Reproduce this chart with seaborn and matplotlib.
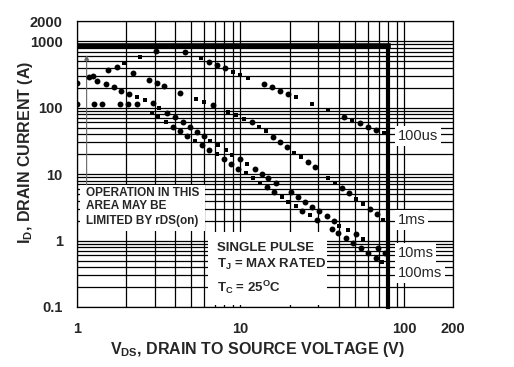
import numpy as np
import pandas as pd
import matplotlib
matplotlib.use('Agg')
import matplotlib.pyplot as plt
from matplotlib.patches import Rectangle
from matplotlib.ticker import FixedLocator, FixedFormatter, LogLocator, NullFormatter
import seaborn as sns

# dots (V, A); marks: 'o' round dot, 's' small square, 'S' big square
rds_v = [1.00, 1.19, 1.26, 1.56, 1.76, 1.95, 2.45, 3.05]
rds_i = [233, 287, 300, 370, 414, 466, 574, 722]
rds_m = ['o', 'o', 'o', 'o', 'o', 'S', 'S', 'o']

us100_v = [4.59, 5.74, 6.43, 7.20, 8.05, 8.97, 10.0, 11.2, 14.0, 15.7, 17.5, 19.6, 22.0,
           27.5, 34.4, 43.1, 48.3, 54.0, 60.4, 67.3, 75.7]
us100_i = [683, 554, 493, 439, 392, 348, 314, 280, 227, 203, 180, 161, 143,
           115, 91.4, 73.2, 64.6, 58.3, 51.8, 46.2, 41.2]
us100_m = ['o', 's', 'o', 'o', 'o', 's', 's', 's', 'o', 'o', 'o', 'o', 'S',
           's', 'S', 'o', 's', 'o', 'o', 'o', 's']

ms1_v = [2.20, 2.75, 3.08, 3.43, 4.30, 5.38, 6.02, 6.77, 8.44, 9.40, 10.6, 11.8, 13.0, 14.4, 15.9,
         17.5, 19.3, 21.2, 23.5, 25.8, 28.6, 34.4, 37.8, 41.9, 46.3, 51.1, 56.3, 61.9, 68.3, 74.6]
ms1_i = [330, 261, 233, 212, 168, 135, 122, 109, 87.1, 76.9, 68.3, 61.6, 51.8, 44.2, 36.6,
         30.8, 25.4, 21.0, 17.9, 15.1, 12.7, 8.66, 7.28, 6.12, 5.15, 4.23, 3.55, 2.99, 2.49, 2.04]
ms1_m = ['o', 'o', 'o', 'o', 'o', 'S', 'S', 'o', 's', 's', 's', 'o', 's', 's', 'o',
         'o', 'o', 's', 's', 'o', 'o', 's', 's', 'o', 'o', 's', 's', 'o', 'o', 's']

ms10_v = [1.34, 1.50, 1.68, 1.87, 2.09, 2.34, 2.61, 2.92, 3.20, 3.58, 3.99, 4.44, 4.92, 5.41, 5.99,
          6.52, 7.33, 8.17, 8.92, 9.95, 11.0, 12.3, 13.5, 14.8, 16.4, 20.4, 22.4, 24.8, 27.5, 30.3,
          33.7, 37.3, 40.2, 45.3, 50.6, 56.3, 69.0, 76.4]
ms10_i = [252, 227, 203, 180, 161, 143, 131, 117, 98.0, 82.4, 71.7, 60.9, 51.8, 43.5, 37.5,
          31.9, 27.2, 23.1, 19.4, 16.7, 14.1, 11.8, 10.2, 8.66, 7.43, 5.33, 4.48, 3.85, 3.24, 2.79,
          2.34, 1.99, 1.67, 1.44, 1.24, 1.06, 0.765, 0.657]
ms10_m = ['o', 'o', 'o', 'o', 'o', 's', 'S', 'o', 's', 'o', 'o', 'o', 'o', 'o', 'o',
          's', 's', 's', 's', 'o', 'S', 'o', 'o', 'o', 'o', 'o', 'o', 'o', 'o', 'o',
          'o', 'o', 's', 's', 'o', 's', 'o', 'o']

ms100_v = [1.00, 1.28, 1.43, 1.83, 2.06, 2.34, 2.87, 3.15, 3.50, 3.86, 4.30, 4.74, 5.28, 5.80, 6.46,
           7.20, 7.94, 8.73, 9.67, 10.8, 11.9, 13.2, 14.5, 16.0, 17.9, 19.6, 21.8, 23.9, 26.6, 29.5,
           36.1, 39.6, 44.2, 48.9, 54.5, 60.4, 67.1, 73.6]
ms100_i = [112, 112, 112, 112, 112, 112, 84.1, 71.7, 60.9, 51.8, 44.6, 37.5, 31.9, 27.2, 23.1,
           19.9, 16.7, 14.2, 12.1, 10.3, 8.66, 7.43, 6.34, 5.38, 4.58, 3.85, 3.28, 2.82, 2.40, 2.04,
           1.49, 1.29, 1.08, 0.91, 0.78, 0.657, 0.552, 0.471]
ms100_m = ['o', 'o', 'o', 'o', 'o', 'o', 's', 's', 's', 'o', 'o', 'o', 's', 'o', 'o',
           's', 'o', 'o', 'o', 's', 's', 's', 'o', 'o', 's', 's', 's', 'o', 's', 'o',
           'o', 'o', 'o', 'o', 'o', 'o', 'o', 's']

I_LIMIT = 850      # thick horizontal boundary (A)
V_LIMIT = 80       # thick vertical boundary (V)
rds_note_v = 1.15  # thin arrow from the note box
rds_note_i = [6.9, 620]

x_ticks = [1, 10, 100, 200]
x_labels = ['1', '10', '100', '200']
y_ticks = [0.1, 1, 10, 100, 1000, 2000]
y_labels = ['0.1', '1', '10', '100', '1000', '2000']

frames = []
for name, v, i, m in [('rds', rds_v, rds_i, rds_m), ('100us', us100_v, us100_i, us100_m),
                      ('1ms', ms1_v, ms1_i, ms1_m), ('10ms', ms10_v, ms10_i, ms10_m),
                      ('100ms', ms100_v, ms100_i, ms100_m)]:
    frames.append(pd.DataFrame({'V': v, 'I': i, 'mark': m, 'curve': name}))
df = pd.concat(frames, ignore_index=True)

sns.set_style('white')
plt.rcParams['font.family'] = ['Liberation Sans', 'DejaVu Sans']
plt.rcParams['mathtext.fontset'] = 'custom'
plt.rcParams['mathtext.rm'] = 'Liberation Sans:bold'
plt.rcParams['mathtext.it'] = 'Liberation Sans:bold'
plt.rcParams['mathtext.bf'] = 'Liberation Sans:bold'

fig = plt.figure(figsize=(5.14, 3.67), dpi=100)
ax = fig.add_axes([0.1492, 0.1635, 0.7327, 0.7785])

marks = {'o': ('o', 18), 's': ('s', 5), 'S': ('s', 11)}
for key, (mk, size) in marks.items():
    sns.scatterplot(data=df[df['mark'] == key], x='V', y='I', marker=mk, s=size,
                    color='black', linewidth=0, ax=ax, zorder=3, legend=False)

ax.set_xscale('log')
ax.set_yscale('log')
ax.set_xlim(1, 200)
ax.set_ylim(0.1, 2000)

ax.plot([1, V_LIMIT], [I_LIMIT, I_LIMIT], color='black', lw=4.0, solid_capstyle='projecting', zorder=2.6)
ax.plot([V_LIMIT, V_LIMIT], [0.1, I_LIMIT], color='black', lw=3.0, solid_capstyle='projecting',
        zorder=2.6, clip_on=False)

ax.xaxis.set_major_locator(FixedLocator(x_ticks))
ax.xaxis.set_major_formatter(FixedFormatter(x_labels))
ax.yaxis.set_major_locator(FixedLocator(y_ticks))
ax.yaxis.set_major_formatter(FixedFormatter(y_labels))
ax.xaxis.set_minor_locator(LogLocator(base=10, subs=np.arange(2, 10)))
ax.yaxis.set_minor_locator(LogLocator(base=10, subs=np.arange(2, 10)))
ax.xaxis.set_minor_formatter(NullFormatter())
ax.yaxis.set_minor_formatter(NullFormatter())
ax.grid(True, which='both', color='black', linewidth=0.9)
ax.tick_params(which='both', length=0)
ax.tick_params(axis='x', pad=11, labelsize=10.5)
ax.tick_params(axis='y', pad=10, labelsize=10.5)
for lab in ax.get_xticklabels() + ax.get_yticklabels():
    lab.set_fontweight('bold')
for sp in ax.spines.values():
    sp.set_color('black')
    sp.set_linewidth(0.9)
    sp.set_zorder(2.5)

ax.set_xlabel(r'V$_\mathrm{DS}$, DRAIN TO SOURCE VOLTAGE (V)', fontsize=11.5, fontweight='bold')
ax.set_ylabel(r'I$_\mathrm{D}$, DRAIN CURRENT (A)', fontsize=11.5, fontweight='bold')
ax.xaxis.set_label_coords(0.481, -0.115)
ax.yaxis.set_label_coords(-0.112, 0.54)

# white boxes behind the notes
ax.add_patch(Rectangle((0.0088, 0.266), 0.332, 0.161, transform=ax.transAxes,
                       facecolor='white', edgecolor='none', zorder=1.8))
ax.add_patch(Rectangle((0.3486, 0.007), 0.316, 0.2555, transform=ax.transAxes,
                       facecolor='white', edgecolor='none', zorder=1.8))

for txt, y in [('OPERATION IN THIS', 0.390), ('AREA MAY BE', 0.342), ('LIMITED BY rDS(on)', 0.2905)]:
    ax.text(0.0247, y, txt, transform=ax.transAxes, fontsize=8.5, fontweight='bold',
            va='baseline', ha='left', zorder=4)
for txt, y in [('SINGLE PULSE', 0.197), (r'T$_\mathrm{J}$ = MAX RATED', 0.1376),
               (r'T$_\mathrm{C}$ = 25$^\mathrm{O}$C', 0.0536)]:
    ax.text(0.3733, y, txt, transform=ax.transAxes, fontsize=9.5, fontweight='bold',
            va='baseline', ha='left', zorder=4)

for txt, y in [('100us', 0.5845), ('1ms', 0.2905), ('10ms', 0.176), ('100ms', 0.106)]:
    ax.text(0.852, y, txt, transform=ax.transAxes, fontsize=10.5, va='baseline', ha='left',
            zorder=4, bbox=dict(boxstyle='square,pad=0.2', facecolor='white', edgecolor='none'))

ax.annotate('', xy=(rds_note_v, rds_note_i[1]), xytext=(rds_note_v, rds_note_i[0]),
            arrowprops=dict(arrowstyle='-|>', color='0.4', lw=0.8, mutation_scale=7,
                            shrinkA=0, shrinkB=0), zorder=2.7)

fig.savefig('out.png', dpi=100)
